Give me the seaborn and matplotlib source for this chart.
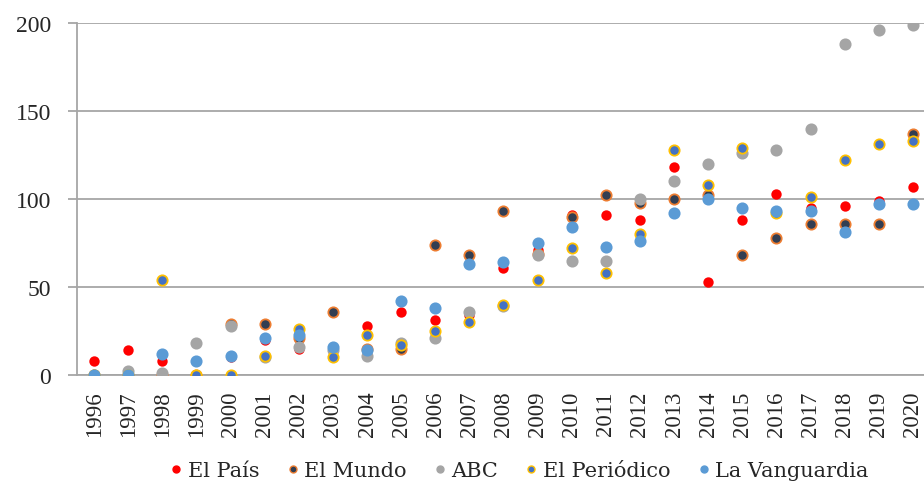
import numpy as np
import pandas as pd
import matplotlib.pyplot as plt
import seaborn as sns

years = list(range(1996, 2021))

el_pais = [8, 14, 8, 0, 10, 20, 15, 15, 28, 36, 31, 34, 61, 71, 91, 91, 88, 118, 53, 88, 103, 95, 96, 99, 107]
el_mundo = [0, 0, 0, 0, 29, 29, 21, 36, 15, 15, 74, 68, 93, 69, 90, 102, 98, 100, 102, 68, 78, 86, 86, 86, 137]
abc = [0, 2, 1, 18, 28, 10, 16, 14, 11, 18, 21, 36, 39, 68, 65, 65, 100, 110, 120, 126, 128, 140, 188, 196, 199]
el_periodico = [0, 0, 54, 0, 0, 11, 26, 10, 23, 17, 25, 30, 40, 54, 72, 58, 80, 128, 108, 129, 92, 101, 122, 131, 133]
la_vanguardia = [0, 0, 12, 8, 11, 21, 23, 16, 14, 42, 38, 63, 64, 75, 84, 73, 76, 92, 100, 95, 93, 93, 81, 97, 97]

series = {
    "El País": el_pais,
    "El Mundo": el_mundo,
    "ABC": abc,
    "El Periódico": el_periodico,
    "La Vanguardia": la_vanguardia,
}
# face colour, edge colour, size
styles = {
    "El País": ("#ff0000", "#ff0000", 38),
    "El Mundo": ("#323e52", "#ed7d31", 55),
    "ABC": ("#a5a5a5", "#a5a5a5", 55),
    "El Periódico": ("#4472c4", "#ffc000", 55),
    "La Vanguardia": ("#5b9bd5", "#5b9bd5", 55),
}

rows = []
for name, vals in series.items():
    for i, (yr, v) in enumerate(zip(years, vals)):
        rows.append({"pos": i, "year": yr, "value": v, "diario": name})
df = pd.DataFrame(rows)

sns.set_style("white")
plt.rcParams["font.family"] = ["Liberation Serif", "DejaVu Serif"]

fig = plt.figure(figsize=(9.24, 4.89), dpi=100)
ax = fig.add_axes([77 / 924, 1 - 376 / 489, (930 - 77) / 924, (376 - 24) / 489])

for name in series:
    face, edge, size = styles[name]
    sub = df[df["diario"] == name]
    sns.scatterplot(data=sub, x="pos", y="value", ax=ax, color=face, edgecolor=edge,
                    linewidth=1.3, s=size, label=name, zorder=3, legend=False)

grid_col = "#a6a6a6"
ax.set_xlim(-0.5, len(years) - 0.5)
ax.set_ylim(0, 200)
ax.set_yticks([0, 50, 100, 150, 200])
ax.yaxis.grid(True, color=grid_col, linewidth=1.3, zorder=0)
ax.set_axisbelow(True)

ax.set_xticks(range(len(years)))
ax.set_xticklabels([str(y) for y in years], rotation=90)
ax.set_xticks(np.arange(-0.5, len(years), 1), minor=True)
ax.tick_params(axis="x", which="major", length=0, labelsize=16.5, pad=11)
ax.tick_params(axis="x", which="minor", length=5, width=1.3, color=grid_col, direction="out")
ax.tick_params(axis="y", length=6.5, width=1.3, color=grid_col, labelsize=17, pad=12)
ax.tick_params(axis="y", which="major", left=True)

for side in ["top", "right"]:
    ax.spines[side].set_visible(False)
for side in ["left", "bottom"]:
    ax.spines[side].set_color(grid_col)
    ax.spines[side].set_linewidth(1.3)

ax.set_xlabel("")
ax.set_ylabel("")

handles = []
for name in series:
    face, edge, size = styles[name]
    h = plt.Line2D([], [], linestyle="none", marker="o", markersize=5,
                   markerfacecolor=face, markeredgecolor=edge, markeredgewidth=1.0)
    handles.append(h)
fig.legend(handles, list(series.keys()), loc="center", bbox_to_anchor=(0.562, 0.035),
           ncol=5, frameon=False, prop={"family": "DejaVu Serif", "size": 15},
           handletextpad=0.25, columnspacing=1.3, handlelength=0.6)

fig.savefig("out.png", dpi=100)
